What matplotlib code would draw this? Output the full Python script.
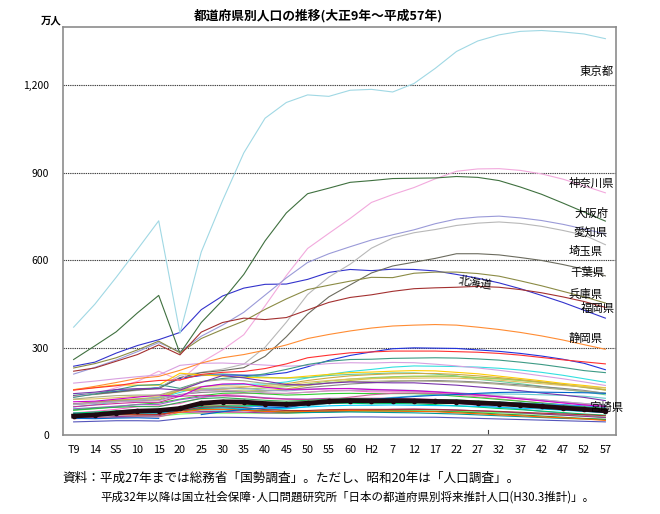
import numpy as np
import matplotlib
matplotlib.use("Agg")
import matplotlib.pyplot as plt

plt.rcParams["font.family"] = ["Noto Sans CJK JP", "DejaVu Sans"]

years = ["T9", "14", "S5", "10", "15", "20", "25", "30", "35", "40", "45", "50", "55",
         "60", "H2", "7", "12", "17", "22", "27", "32", "37", "42", "47", "52", "57"]

# population (万人), census up to H27, IPSS projection afterwards
hokkaido = [236, 250, 281, 307, 327, 352, 430, 477, 504, 517, 518, 534, 558, 568, 564, 569, 568, 563, 551, 538, 522, 502, 479, 455, 428, 401]
aomori = [76, 81, 88, 97, 100, 108, 128, 138, 143, 142, 143, 147, 152, 152, 148, 148, 148, 144, 137, 131, 124, 117, 110, 103, 95, 88]
iwate = [85, 90, 97, 105, 110, 123, 135, 143, 145, 141, 137, 139, 142, 143, 142, 142, 142, 139, 133, 128, 122, 116, 110, 104, 97, 91]
miyagi = [96, 104, 114, 123, 127, 146, 166, 173, 174, 175, 182, 196, 208, 218, 225, 233, 237, 236, 235, 233, 229, 223, 215, 205, 193, 181]
akita = [90, 94, 99, 104, 105, 121, 131, 135, 134, 128, 124, 123, 126, 125, 123, 121, 119, 115, 109, 102, 96, 89, 81, 75, 68, 60]
yamagata = [97, 103, 108, 112, 112, 133, 136, 135, 132, 126, 123, 122, 125, 126, 126, 126, 124, 122, 117, 112, 106, 100, 95, 89, 83, 77]
fukushima = [136, 144, 151, 158, 163, 196, 206, 210, 205, 198, 195, 197, 204, 208, 210, 213, 213, 209, 203, 191, 184, 176, 167, 157, 148, 138]
ibaraki = [135, 141, 149, 155, 162, 194, 204, 206, 205, 206, 214, 234, 256, 273, 285, 296, 299, 298, 297, 292, 287, 280, 271, 260, 246, 224]
tochigi = [105, 109, 114, 120, 121, 155, 155, 155, 151, 152, 158, 170, 179, 187, 194, 198, 200, 202, 201, 197, 193, 188, 181, 173, 166, 156]
gunma = [105, 112, 119, 124, 130, 155, 160, 161, 158, 161, 166, 175, 185, 192, 197, 200, 202, 202, 201, 197, 193, 187, 180, 173, 163, 155]
saitama = [132, 139, 146, 153, 161, 205, 215, 226, 243, 301, 387, 482, 542, 586, 641, 676, 694, 705, 719, 727, 731, 726, 716, 702, 686, 653]
chiba = [134, 140, 147, 155, 159, 197, 214, 221, 231, 270, 337, 415, 474, 515, 556, 580, 593, 606, 622, 622, 618, 609, 599, 585, 569, 546]
tokyo = [370, 449, 541, 637, 735, 349, 628, 804, 968, 1087, 1141, 1167, 1162, 1183, 1186, 1177, 1206, 1258, 1316, 1352, 1373, 1385, 1388, 1383, 1376, 1360]
kanagawa = [132, 142, 162, 184, 219, 187, 249, 292, 344, 443, 547, 640, 692, 743, 798, 825, 849, 879, 905, 913, 914, 908, 896, 878, 855, 831]
niigata = [178, 185, 193, 200, 206, 239, 246, 247, 244, 240, 236, 239, 245, 248, 247, 249, 248, 243, 237, 230, 222, 213, 203, 193, 182, 170]
toyama = [72, 75, 78, 80, 82, 95, 101, 102, 103, 103, 103, 107, 110, 112, 112, 112, 112, 111, 109, 107, 103, 99, 95, 91, 88, 84]
ishikawa = [75, 75, 76, 77, 76, 89, 96, 97, 97, 98, 100, 107, 112, 115, 116, 118, 118, 117, 117, 115, 113, 110, 107, 104, 100, 95]
fukui = [60, 60, 62, 65, 64, 72, 75, 75, 75, 75, 74, 77, 79, 82, 82, 83, 83, 82, 81, 79, 77, 74, 71, 68, 65, 61]
yamanashi = [58, 60, 63, 65, 66, 84, 81, 81, 78, 76, 76, 78, 80, 83, 85, 88, 89, 88, 86, 83, 80, 76, 72, 68, 64, 60]
nagano = [156, 163, 172, 171, 171, 212, 206, 202, 198, 196, 196, 202, 208, 214, 216, 219, 221, 220, 215, 210, 202, 194, 186, 177, 170, 162]
gifu = [107, 113, 119, 123, 127, 152, 154, 158, 164, 170, 176, 187, 196, 203, 207, 210, 211, 211, 208, 203, 197, 190, 182, 173, 164, 154]
shizuoka = [155, 167, 180, 194, 201, 222, 247, 265, 276, 291, 309, 331, 345, 357, 367, 374, 377, 379, 377, 370, 362, 352, 340, 326, 310, 294]
aichi = [209, 232, 257, 286, 317, 286, 339, 377, 421, 480, 539, 592, 622, 646, 669, 687, 704, 725, 741, 748, 751, 745, 736, 723, 707, 690]
mie = [107, 111, 116, 117, 120, 139, 146, 149, 149, 151, 154, 163, 169, 175, 179, 184, 186, 187, 185, 182, 177, 172, 166, 160, 153, 143]
shiga = [65, 66, 69, 71, 70, 86, 86, 85, 84, 85, 89, 99, 108, 116, 122, 129, 134, 138, 141, 141, 141, 140, 138, 136, 133, 126]
kyoto = [129, 141, 155, 170, 173, 160, 183, 194, 199, 210, 225, 242, 253, 259, 260, 263, 264, 265, 264, 261, 257, 250, 242, 232, 221, 214]
osaka = [259, 306, 354, 419, 479, 280, 386, 462, 551, 666, 762, 828, 847, 867, 873, 880, 881, 882, 887, 884, 873, 851, 826, 796, 765, 734]
hyogo = [230, 245, 265, 292, 322, 282, 331, 362, 391, 431, 467, 499, 514, 528, 541, 540, 555, 559, 559, 554, 545, 529, 512, 493, 474, 453]
nara = [56, 58, 60, 62, 62, 78, 76, 78, 78, 83, 93, 108, 121, 130, 138, 143, 144, 142, 140, 136, 131, 125, 119, 112, 105, 99]
wakayama = [75, 79, 83, 86, 86, 94, 98, 100, 100, 103, 104, 107, 109, 109, 107, 108, 107, 104, 100, 96, 91, 87, 82, 77, 72, 68]
tottori = [45, 47, 49, 49, 48, 56, 60, 61, 60, 58, 57, 58, 60, 62, 62, 61, 61, 61, 59, 57, 55, 53, 51, 49, 47, 45]
shimane = [71, 72, 74, 75, 74, 89, 91, 93, 89, 82, 77, 77, 78, 79, 78, 77, 76, 74, 72, 69, 66, 63, 60, 57, 55, 53]
okayama = [122, 124, 128, 133, 133, 156, 166, 169, 167, 165, 171, 181, 187, 192, 193, 195, 195, 196, 195, 192, 188, 182, 176, 170, 166, 162]
hiroshima = [154, 162, 169, 180, 187, 189, 208, 215, 218, 228, 244, 265, 274, 282, 285, 288, 288, 288, 286, 284, 280, 274, 266, 258, 251, 244]
yamaguchi = [104, 109, 114, 119, 129, 136, 154, 161, 160, 154, 151, 156, 159, 160, 157, 155, 153, 149, 145, 140, 134, 127, 121, 114, 108, 103]
tokushima = [67, 69, 72, 73, 72, 84, 88, 88, 85, 82, 79, 81, 83, 83, 83, 83, 82, 81, 79, 76, 72, 69, 65, 61, 57, 54]
kagawa = [68, 70, 73, 75, 73, 86, 95, 94, 92, 90, 91, 96, 100, 102, 102, 103, 102, 101, 100, 98, 95, 92, 89, 85, 81, 77]
ehime = [105, 110, 114, 116, 118, 136, 152, 154, 150, 145, 142, 147, 151, 153, 152, 151, 149, 147, 143, 139, 133, 127, 121, 114, 108, 101]
kochi = [67, 69, 72, 71, 71, 78, 87, 88, 85, 81, 79, 81, 83, 84, 83, 82, 81, 80, 76, 73, 69, 66, 62, 59, 55, 50]
fukuoka = [219, 230, 253, 276, 309, 275, 353, 386, 401, 396, 403, 429, 455, 472, 481, 493, 502, 505, 507, 510, 507, 499, 488, 474, 458, 438]
saga = [67, 68, 69, 69, 70, 83, 95, 97, 94, 87, 84, 84, 87, 88, 88, 88, 88, 87, 85, 83, 81, 78, 75, 72, 70, 66]
nagasaki = [114, 116, 123, 130, 137, 132, 165, 175, 176, 164, 157, 157, 159, 159, 156, 154, 152, 148, 143, 138, 131, 124, 117, 110, 103, 98]
kumamoto = [123, 130, 135, 137, 137, 157, 183, 190, 186, 177, 170, 172, 179, 184, 184, 186, 186, 184, 182, 179, 174, 168, 162, 156, 150, 144]
oita = [86, 92, 95, 98, 97, 112, 125, 128, 124, 119, 116, 119, 123, 125, 124, 123, 122, 121, 120, 117, 113, 109, 105, 100, 96, 91]
miyazaki = [65, 69, 76, 82, 84, 91, 109, 114, 113, 108, 105, 109, 115, 118, 117, 118, 117, 115, 114, 110, 107, 103, 98, 93, 88, 83]
kagoshima = [142, 147, 156, 159, 159, 154, 180, 204, 196, 185, 173, 172, 178, 182, 180, 179, 179, 175, 171, 165, 159, 152, 144, 137, 129, 118]
okinawa = [57, 56, 58, 59, 57, np.nan, 70, 80, 88, 93, 95, 104, 111, 118, 122, 127, 132, 136, 139, 143, 146, 147, 147, 146, 145, 143]

series = [
    (hokkaido, "#3333cc"), (aomori, "#ff66cc"), (iwate, "#33cc33"), (miyagi, "#33e0e0"),
    (akita, "#9966cc"), (yamagata, "#cc3399"), (fukushima, "#66cc99"), (ibaraki, "#2233dd"),
    (tochigi, "#cccc33"), (gunma, "#99cc66"), (saitama, "#b8b8b8"), (chiba, "#6b6b5e"),
    (tokyo, "#a0d8e4"), (kanagawa, "#f2a9dd"), (niigata, "#d8a0e0"), (toyama, "#ff9966"),
    (ishikawa, "#3399ff"), (fukui, "#66ff66"), (yamanashi, "#993399"), (nagano, "#ffcc00"),
    (gifu, "#ccaa44"), (shizuoka, "#ff8c33"), (aichi, "#9a9ad8"), (mie, "#888888"),
    (shiga, "#66cccc"), (kyoto, "#3d9a85"), (osaka, "#3f703f"), (hyogo, "#8b8b45"),
    (nara, "#cc6699"), (wakayama, "#00cc66"), (tottori, "#5555bb"), (shimane, "#009999"),
    (okayama, "#e0c060"), (hiroshima, "#ff3030"), (yamaguchi, "#99aacc"), (tokushima, "#339933"),
    (kagawa, "#00ccff"), (ehime, "#c0a0c0"), (kochi, "#ff6600"), (fukuoka, "#a33030"),
    (saga, "#aa3333"), (nagasaki, "#cc00cc"), (kumamoto, "#aaaa88"), (oita, "#33aa55"),
    (kagoshima, "#7733aa"), (okinawa, "#0066cc"),
]

# label text, x (category index), y (万人)
labels = [
    ("東京都", 25.38, 1246), ("神奈川県", 25.42, 865), ("大阪府", 25.14, 762),
    ("愛知県", 25.09, 697), ("埼玉県", 24.86, 628), ("千葉県", 24.95, 556),
    ("兵庫県", 24.86, 481), ("福岡県", 25.47, 433), ("静岡県", 24.86, 333),
    ("宮崎県", 25.85, 93),
]

fig = plt.figure(figsize=(6.6, 5.14), dpi=100)
ax = fig.add_axes([63 / 660, 1 - 435 / 514, (616 - 63) / 660, (435 - 27) / 514])

x = np.arange(len(years))
for vals, col in series:
    ax.plot(x, vals, color=col, lw=0.8, zorder=2)
ax.plot(x, miyazaki, color="#1e0a12", lw=3.4, marker="o", ms=3, zorder=3)

ax.set_xlim(-0.5, len(years) - 0.5)
ax.set_ylim(0, 1400)
ax.set_yticks([0, 300, 600, 900, 1200])
ax.set_yticklabels(["0", "300", "600", "900", "1,200"], fontsize=7.5)
ax.set_xticks(x)
ax.set_xticklabels(years, fontsize=7.8)
ax.tick_params(length=0, pad=7)
ax.tick_params(axis="y", pad=10)
for y in [300, 600, 900, 1200]:
    ax.axhline(y, color="#404040", lw=0.8, ls=(0, (1.2, 0.8)), zorder=1)
for s in ax.spines.values():
    s.set_color("#8c8c8c")
    s.set_linewidth(1.2)
ax.axvline(19.5, ymin=0, ymax=0.012, color="#444444", lw=0.8)

for txt, lx, ly in labels:
    ax.text(lx, ly, txt, fontsize=8.2, ha="right", va="center", zorder=5, clip_on=False)
ax.text(18.9, 522, "北海道", fontsize=8.2, ha="center", va="center", rotation=-8, zorder=5)

fig.text(318 / 660, 1 - 16 / 514, "都道府県別人口の推移(大正9年～平成57年)", fontsize=9.2,
         ha="center", va="center", fontweight="bold")
fig.text(62 / 660, 1 - 21 / 514, "万人", fontsize=7.5, ha="right", va="center", fontweight="bold")
fig.text(62 / 660, 1 - 478 / 514, "資料：平成27年までは総務省「国勢調査」。ただし、昭和20年は「人口調査」。",
         fontsize=9.1, ha="left", va="center")
fig.text(100 / 660, 1 - 497 / 514,
         "平成32年以降は国立社会保障･人口問題研究所「日本の都道府県別将来推計人口(H30.3推計)」。",
         fontsize=8.3, ha="left", va="center")

fig.savefig("out.png", dpi=100)
